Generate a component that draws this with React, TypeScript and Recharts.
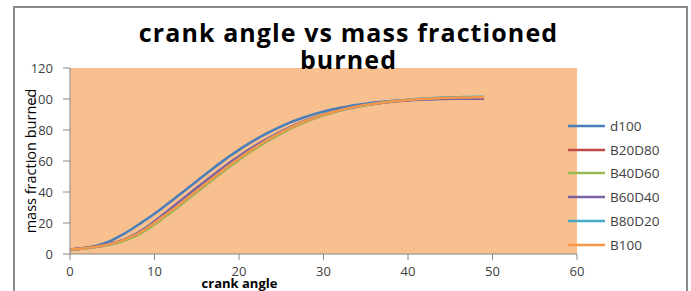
import React from "react";
import { LineChart, Line, XAxis, YAxis, ReferenceArea, Label } from "recharts";

const crankAngle = [0,1,2,3,4,5,6,7,8,9,10,11,12,13,14,15,16,17,18,19,20,21,22,23,24,25,26,27,28,29,30,31,32,33,34,35,36,37,38,39,40,41,42,43,44,45,46,47,48,49];

const d100 = [2.5,3.2,4.0,5.2,6.8,9.0,11.8,15.0,18.5,22.2,26.0,30.0,34.2,38.5,42.8,47.0,51.3,55.5,59.6,63.5,67.2,70.7,74.0,77.0,79.8,82.4,84.7,86.8,88.7,90.4,91.9,93.2,94.4,95.4,96.3,97.0,97.7,98.2,98.7,99.1,99.4,99.6,99.8,100.0,100.1,100.2,100.2,100.3,100.3,100.3];
const B20D80 = [3.0,3.5,4.1,4.8,5.7,6.9,8.5,10.6,13.2,16.4,20.2,24.2,28.3,32.5,36.8,41.1,45.4,49.7,53.9,58.0,61.9,65.7,69.2,72.6,75.8,78.7,81.4,83.9,86.1,88.1,89.9,91.5,92.9,94.1,95.2,96.2,97.0,97.7,98.4,98.9,99.4,99.8,100.1,100.4,100.6,100.8,100.9,101.0,101.1,101.1];
const B40D60 = [2.6,3.1,3.7,4.3,5.1,6.2,7.7,9.7,12.2,15.3,19.0,23.0,27.0,31.2,35.5,39.8,44.1,48.4,52.6,56.7,60.7,64.5,68.1,71.5,74.7,77.7,80.5,83.0,85.4,87.5,89.4,91.0,92.5,93.8,95.0,96.0,96.8,97.6,98.3,98.8,99.3,99.7,100.0,100.3,100.5,100.7,100.8,100.9,101.0,101.0];
const B60D40 = [2.9,3.4,4.0,4.7,5.6,6.8,8.5,10.8,13.6,17.0,21.2,25.4,29.7,34.0,38.4,42.7,47.0,51.2,55.3,59.3,63.1,66.7,70.1,73.3,76.3,79.1,81.7,84.1,86.3,88.2,90.0,91.5,92.9,94.1,95.2,96.1,96.9,97.6,98.2,98.7,99.1,99.4,99.7,99.9,100.0,100.1,100.2,100.2,100.2,100.2];
const B80D20 = [2.8,3.3,3.9,4.6,5.5,6.7,8.3,10.4,13.0,16.2,20.0,24.0,28.0,32.2,36.5,40.8,45.1,49.4,53.6,57.7,61.6,65.4,69.0,72.4,75.6,78.5,81.2,83.7,86.0,88.0,89.8,91.4,92.8,94.1,95.2,96.2,97.1,97.8,98.5,99.1,99.6,100.0,100.4,100.7,100.9,101.1,101.2,101.3,101.4,101.4];
const B100 = [2.8,3.3,3.9,4.6,5.5,6.7,8.3,10.4,13.0,16.2,20.0,24.0,28.0,32.2,36.5,40.8,45.1,49.4,53.6,57.7,61.6,65.4,69.0,72.4,75.6,78.5,81.2,83.7,86.0,88.0,89.8,91.4,92.8,94.1,95.2,96.2,97.0,97.7,98.4,98.9,99.4,99.8,100.1,100.4,100.6,100.8,100.9,101.0,101.1,101.1];

const xTicks = [0, 10, 20, 30, 40, 50, 60];
const yTicks = [0, 20, 40, 60, 80, 100, 120];

const seriesNames = ["d100", "B20D80", "B40D60", "B60D40", "B80D20", "B100"];
const seriesValues = [d100, B20D80, B40D60, B60D40, B80D20, B100];
const seriesColors = ["#4A7EBB", "#BE4B48", "#98B954", "#7D60A0", "#46AAC5", "#F79646"];

const data = crankAngle.map((x, i) => {
  const row: Record<string, number> = { x };
  seriesNames.forEach((n, k) => {
    row[n] = seriesValues[k][i];
  });
  return row;
});

const font = "'Open Sans', 'Liberation Sans', sans-serif";

export default function App() {
  return (
    <div style={{ position: "absolute", left: 0, top: 0, width: 691, height: 291, overflow: "hidden", background: "#fff" }}>
      <div style={{ position: "absolute", left: 13, top: 6, width: 675, height: 320, border: "2px solid #8a8a8a", boxSizing: "border-box" }} />
      <LineChart
        width={691}
        height={291}
        data={data}
        margin={{ top: 68, right: 114, bottom: 0, left: 0 }}
        style={{ position: "absolute", left: 0, top: 0 }}
      >
        <ReferenceArea x1={0} x2={60} y1={0} y2={120} fill="#F9C08F" fillOpacity={1} stroke="none" ifOverflow="visible" />
        <XAxis
          dataKey="x"
          type="number"
          domain={[0, 60]}
          ticks={xTicks}
          height={37}
          axisLine={{ stroke: "#868686" }}
          tickLine={{ stroke: "#868686" }}
          tickSize={6}
          tick={{ fill: "#404040", fontSize: 13, fontFamily: font }}
          tickMargin={7}
        >
          <Label value="crank angle" position="insideBottom" offset={3} dx={-84} style={{ fontFamily: font, fontSize: 13, fontWeight: "bold", fill: "#000" }} />
        </XAxis>
        <YAxis
          type="number"
          domain={[0, 120]}
          ticks={yTicks}
          width={70}
          axisLine={{ stroke: "#868686" }}
          tickLine={{ stroke: "#868686" }}
          tickSize={7}
          tick={{ fill: "#404040", fontSize: 13, fontFamily: font }}
          tickMargin={10}
        >
          <Label value="mass fraction burned" angle={-90} position="insideLeft" offset={31} style={{ fontFamily: font, fontSize: 14.5, fill: "#000", textAnchor: "middle" }} />
        </YAxis>
        {seriesNames.map((n, k) => (
          <Line
            key={n}
            dataKey={n}
            name={n}
            stroke={seriesColors[k]}
            strokeWidth={2.5}
            dot={false}
            type="monotone"
            isAnimationActive={false}
          />
        ))}
      </LineChart>
      <div style={{ position: "absolute", left: 568, top: 114, fontFamily: font, fontSize: 13.5, color: "#404040" }}>
        {seriesNames.map((n, k) => (
          <div key={n} style={{ display: "flex", alignItems: "center", height: 23.8 }}>
            <svg width={42} height={10}>
              <line x1={0} y1={5} x2={37} y2={5} stroke={seriesColors[k]} strokeWidth={2.5} />
            </svg>
            <span>{n}</span>
          </div>
        ))}
      </div>
      <div
        style={{
          position: "absolute",
          left: 0,
          width: 691,
          top: 19,
          textAlign: "center",
          fontFamily: font,
          fontWeight: "bold",
          fontSize: 25,
          letterSpacing: 1.1,
          lineHeight: "27px",
          color: "#000",
          paddingLeft: 6,
          boxSizing: "border-box",
        }}
      >
        crank angle vs mass fractioned
        <br />
        burned
      </div>
    </div>
  );
}
